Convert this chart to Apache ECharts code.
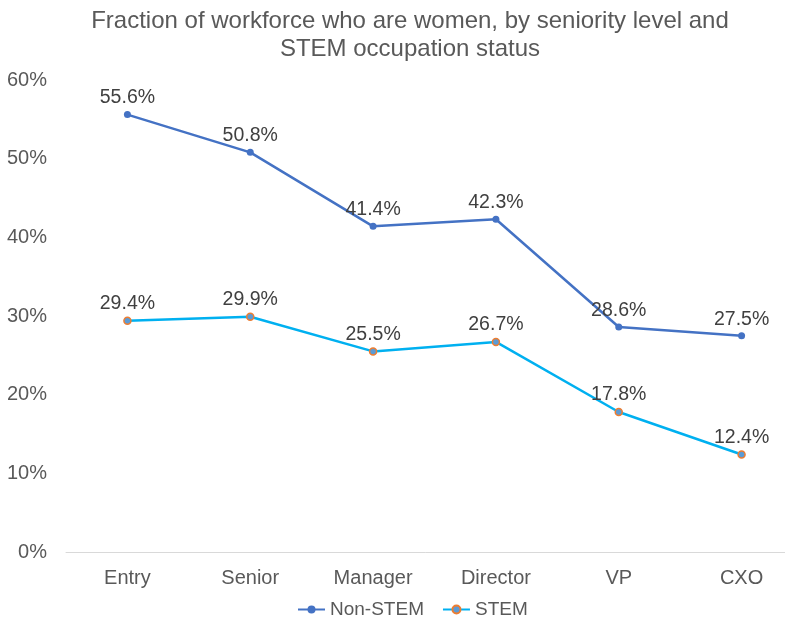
<!DOCTYPE html>
<html><head><meta charset="utf-8">
<script src="https://cdn.jsdelivr.net/npm/echarts@6/dist/echarts.min.js"></script>
<style>html,body{margin:0;padding:0;background:#fff}#c{width:785px;height:623px}</style>
</head><body><div id="c"></div>
<script>
const categories = ['Entry','Senior','Manager','Director','VP','CXO'];
const nonStem = [55.6, 50.8, 41.4, 42.3, 28.6, 27.5];
const stem = [29.4, 29.9, 25.5, 26.7, 17.8, 12.4];
const yTicks = [0, 10, 20, 30, 40, 50, 60];

const chart = echarts.init(document.getElementById('c'), null, {renderer:'canvas'});
const font = 'Liberation Sans, Arial, sans-serif';
chart.setOption({
  animation: false,
  backgroundColor: '#fff',
  title: {
    text: 'Fraction of workforce who are women, by seniority level and\nSTEM occupation status',
    left: 405, top: 2, textAlign: 'center',
    textStyle: {fontFamily: font, fontSize: 24, fontWeight: 'normal', color: '#595959', lineHeight: 28}
  },
  legend: {
    top: 595, left: 292, itemGap: 18, itemWidth: 27, itemHeight: 10,
    textStyle: {fontFamily: font, fontSize: 19, color: '#595959'},
    data: ['Non-STEM', 'STEM']
  },
  grid: {left: 66, top: 80, width: 737, height: 472, containLabel: false, outerBoundsMode: 'none'},
  xAxis: {
    type: 'category', data: categories, boundaryGap: true,
    axisLine: {lineStyle: {color: '#d9d9d9', width: 1}},
    axisTick: {show: false},
    axisLabel: {fontFamily: font, fontSize: 20, color: '#595959', margin: 16}
  },
  yAxis: {
    type: 'value', min: yTicks[0], max: yTicks[yTicks.length-1], interval: 10,
    axisLine: {show: false}, axisTick: {show: false}, splitLine: {show: false},
    axisLabel: {fontFamily: font, fontSize: 20, color: '#595959', margin: 19, formatter: v => v + '%'}
  },
  series: [
    {
      name: 'Non-STEM', type: 'line', data: nonStem,
      symbol: 'circle', symbolSize: 7,
      lineStyle: {color: '#4472C4', width: 2.5},
      itemStyle: {color: '#4472C4'},
      label: {show: true, position: 'top', distance: 3, fontFamily: font, fontSize: 19.5, color: '#404040', formatter: p => p.value.toFixed(1) + '%'}
    },
    {
      name: 'STEM', type: 'line', data: stem,
      symbol: 'circle', symbolSize: 7,
      lineStyle: {color: '#00B0F0', width: 2.5},
      itemStyle: {color: '#5B9BD5', borderColor: '#ED7D31', borderWidth: 1.5},
      label: {show: true, position: 'top', distance: 3, fontFamily: font, fontSize: 19.5, color: '#404040', formatter: p => p.value.toFixed(1) + '%'}
    }
  ]
});
</script></body></html>
